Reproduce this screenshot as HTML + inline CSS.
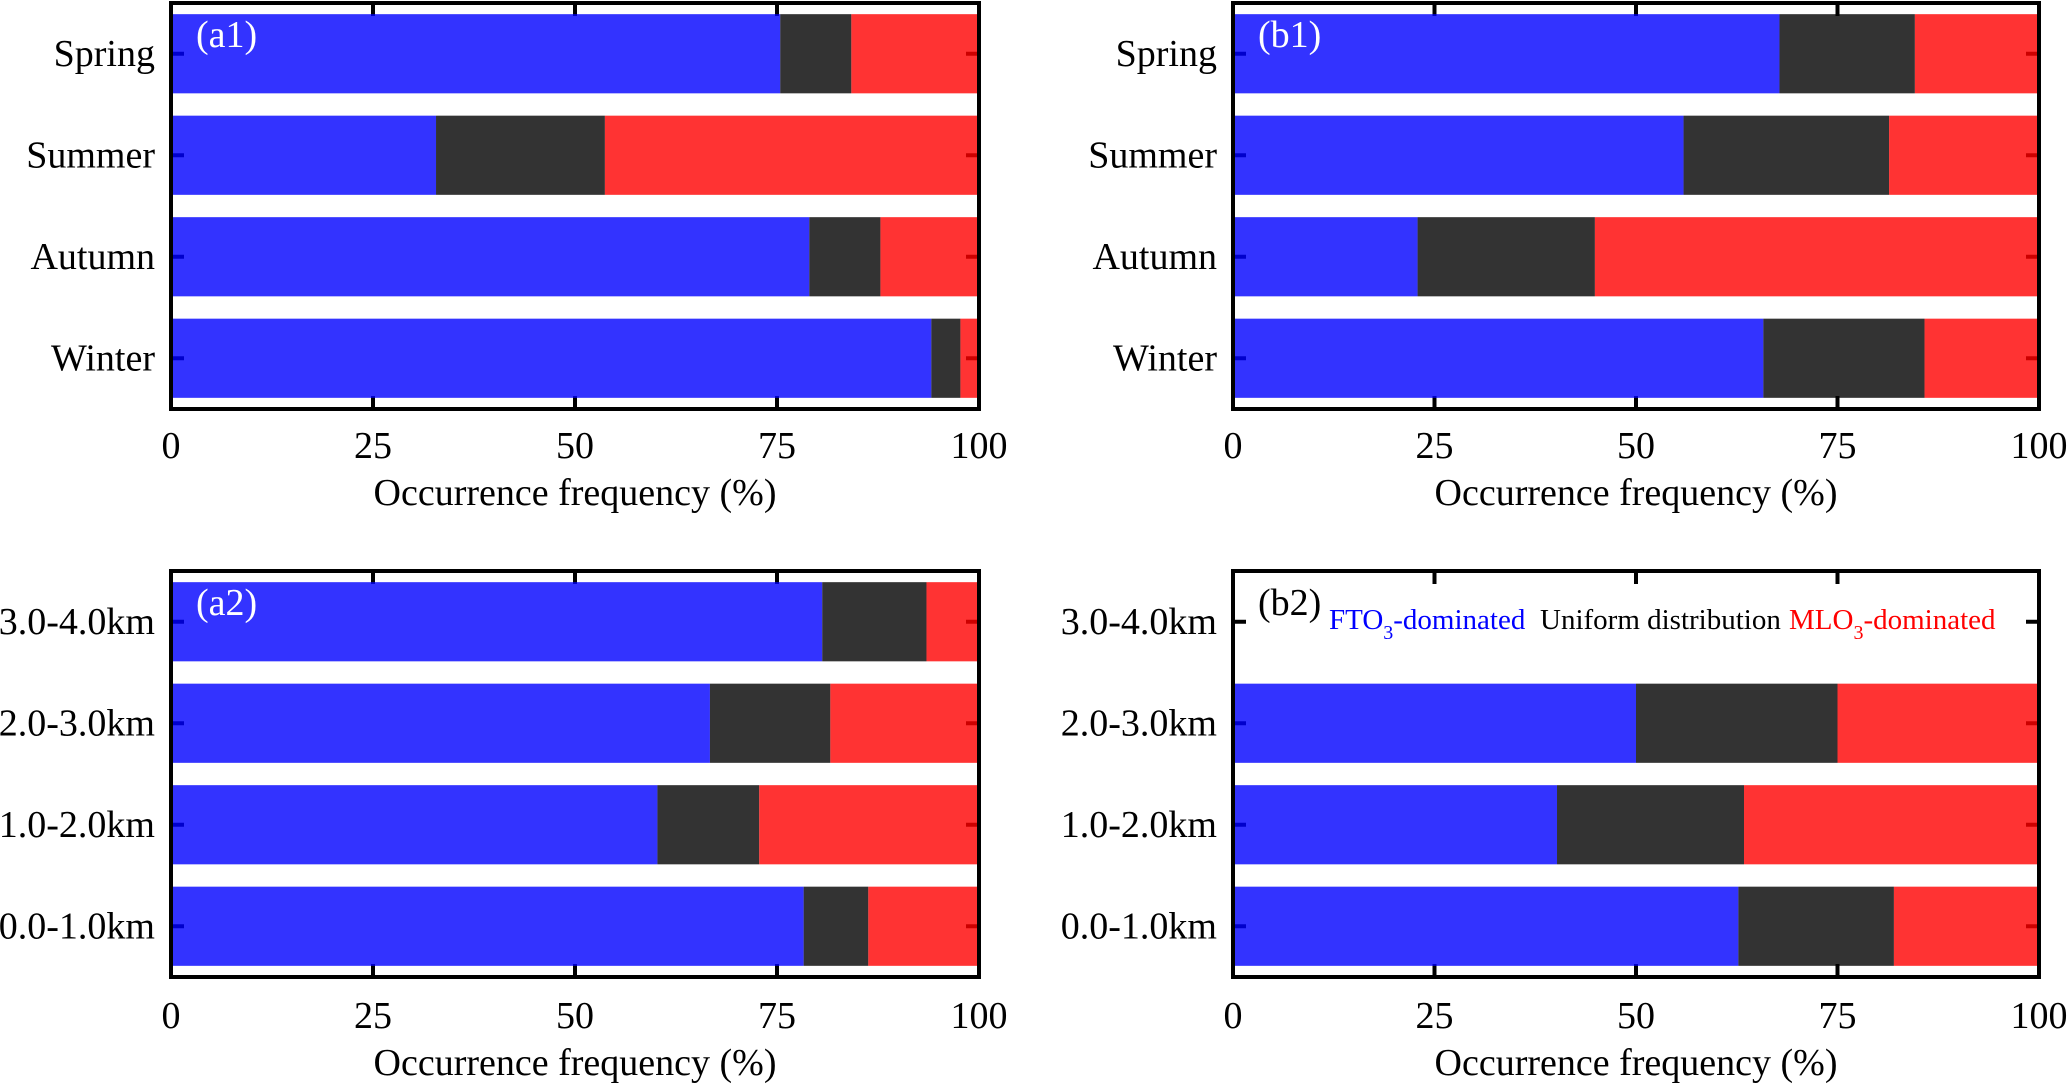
<!DOCTYPE html>
<html><head><meta charset="utf-8"><style>
html,body{margin:0;padding:0;background:#fff;}
svg{display:block;font-family:"Liberation Serif",serif;}
</style></head><body>
<svg id="chart" width="2067" height="1084" viewBox="0 0 2067 1084" xmlns="http://www.w3.org/2000/svg"></svg>
<script>
const xTicks = [0, 25, 50, 75, 100];
const seasonCats = ["Spring", "Summer", "Autumn", "Winter"];
const heightCats = ["3.0-4.0km", "2.0-3.0km", "1.0-2.0km", "0.0-1.0km"];
const a1FT = [75.4, 32.8, 79.0, 94.1];
const a1Uni = [8.8, 20.9, 8.8, 3.6];
const b1FT = [67.8, 55.9, 22.9, 65.8];
const b1Uni = [16.8, 25.5, 22.0, 20.0];
const a2FT = [80.6, 66.7, 60.2, 78.3];
const a2Uni = [12.9, 14.9, 12.6, 8.0];
const b2FT = [0, 50.0, 40.2, 62.7];
const b2Uni = [0, 25.0, 23.2, 19.3];

const NS = "http://www.w3.org/2000/svg";
const svg = document.getElementById("chart");
function mk(tag, attrs, parent) {
  const e = document.createElementNS(NS, tag);
  for (const k in attrs) e.setAttribute(k, attrs[k]);
  (parent || svg).appendChild(e);
  return e;
}
const FS = 38;
const panels = [
  {id:"a1", x0:171, x1:979, y0:3, y1:409, cats:seasonCats, ft:a1FT, uni:a1Uni, tickY:446, titleY:493},
  {id:"b1", x0:1233, x1:2039, y0:3, y1:409, cats:seasonCats, ft:b1FT, uni:b1Uni, tickY:446, titleY:493},
  {id:"a2", x0:171, x1:979, y0:571, y1:977, cats:heightCats, ft:a2FT, uni:a2Uni, tickY:1016, titleY:1063},
  {id:"b2", x0:1233, x1:2039, y0:571, y1:977, cats:heightCats, ft:b2FT, uni:b2Uni, tickY:1016, titleY:1063}
];
panels.forEach(p => {
  const g = mk("g", {});
  
  
  const xs = v => p.x0 + (p.x1 - p.x0) * v / 100;
  const band = (p.y1 - p.y0) / p.cats.length;
  const yc = i => p.y0 + band * (i + 0.5);
  const bh = band * 0.78;
  xTicks.forEach(t => {
    if (t === 0 || t === 100) return;
    const a = mk("line", {x1:xs(t), x2:xs(t), y1:p.y0, y2:p.y0+13, stroke:"#000", "stroke-width":4}, g);
    
    
    const b = mk("line", {x1:xs(t), x2:xs(t), y1:p.y1, y2:p.y1-13, stroke:"#000", "stroke-width":4}, g);
    
    
  });
  p.cats.forEach((c, i) => {
    const l = mk("line", {x1:p.x0, x2:p.x0+13, y1:yc(i), y2:yc(i), stroke:"#000", "stroke-width":4}, g);
    
    
    const r = mk("line", {x1:p.x1, x2:p.x1-13, y1:yc(i), y2:yc(i), stroke:"#000", "stroke-width":4}, g);
    
    
  });
  p.cats.forEach((c, i) => {
    const ft = p.ft[i], un = p.uni[i];
    if (ft + un <= 0) return;
    const top = yc(i) - bh / 2;
    const segs = [[0, ft, "#0000ff"], [ft, ft + un, "#000000"], [ft + un, 100, "#ff0000"]];
    const names = ["fto3", "uniform", "mlo3"];
    segs.forEach((s, k) => {
      const r = mk("rect", {x:xs(s[0]), y:top, width:Math.max(0, xs(s[1]) - xs(s[0])), height:bh, fill:s[2], "fill-opacity":0.8}, g);
      
      
    });
  });
  const f = mk("rect", {x:p.x0, y:p.y0, width:p.x1-p.x0, height:p.y1-p.y0, fill:"none", stroke:"#000", "stroke-width":4}, g);
  
  
  p.cats.forEach((c, i) => {
    const t = mk("text", {x:p.x0 - 16, y:yc(i) + 12, "text-anchor":"end", "font-size":FS, fill:"#000"}, g);
    t.textContent = c;
    
    
  });
  xTicks.forEach(v => {
    const t = mk("text", {x:xs(v), y:p.tickY + 12, "text-anchor":"middle", "font-size":FS, fill:"#000"}, g);
    t.textContent = v;
    
    
  });
  const tt = mk("text", {x:(p.x0 + p.x1) / 2, y:p.titleY + 12, "text-anchor":"middle", "font-size":FS, fill:"#000"}, g);
  tt.textContent = "Occurrence frequency (%)";
  
  
  const pl = mk("text", {x:p.x0 + 25, y:p.y0 + 44, "font-size":FS, fill:p.id === "b2" ? "#000" : "#fff"}, g);
  pl.textContent = "(" + p.id + ")";
  
  
});
const lg = mk("text", {x:1329, y:629, "font-size":29});


lg.innerHTML = '<tspan fill="#0000ff">FTO</tspan><tspan fill="#0000ff" font-size="20" dy="10">3</tspan><tspan fill="#0000ff" dy="-10">-dominated</tspan>';
const lg2 = mk("text", {x:1540, y:629, "font-size":29, fill:"#000"});
lg2.textContent = "Uniform distribution";


const lg3 = mk("text", {x:1789, y:629, "font-size":29});


lg3.innerHTML = '<tspan fill="#ff0000">MLO</tspan><tspan fill="#ff0000" font-size="20" dy="10">3</tspan><tspan fill="#ff0000" dy="-10">-dominated</tspan>';
</script>
</body></html>
